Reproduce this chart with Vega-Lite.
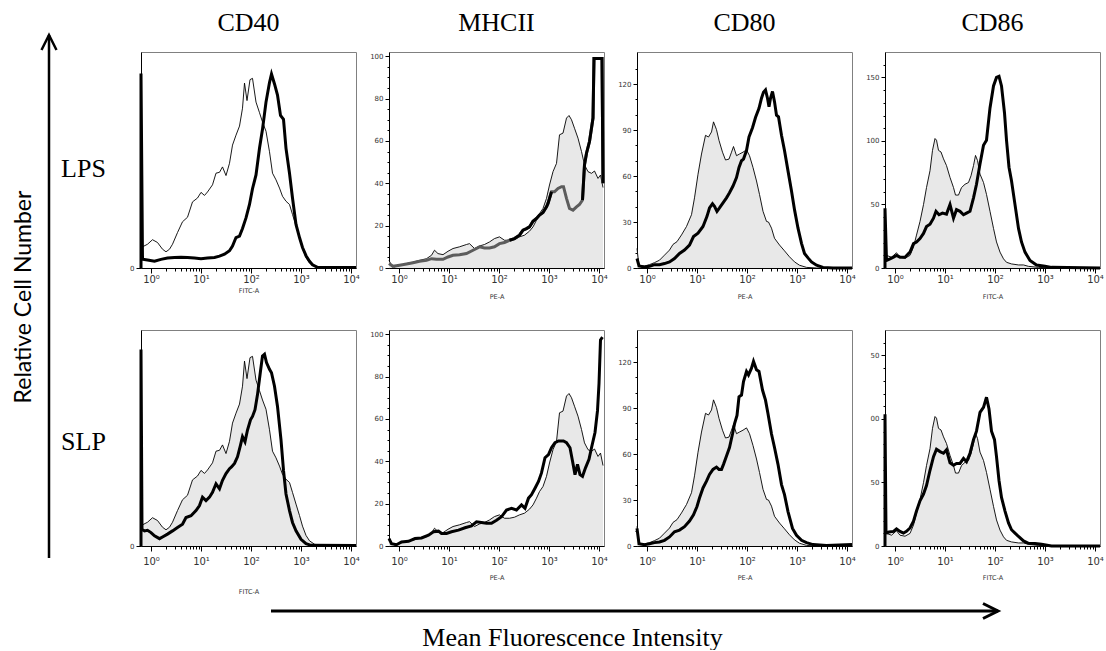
{
"$schema": "https://vega.github.io/schema/vega-lite/v6.json",
"background": "white",
"padding": {"left": 12, "top": 9, "right": 0, "bottom": 0},
"config": {
  "view": {"stroke": "#808080", "strokeWidth": 1},
  "axis": {"grid": false, "domainColor": "#000", "domainWidth": 1, "tickColor": "#000", "tickWidth": 1, "labelFont": "DejaVu Sans", "labelColor": "#333", "titleFont": "DejaVu Sans", "titleFontWeight": "normal", "titleColor": "#333", "labelOverlap": false, "labelFlush": false},
  "axisX": {"labelFontSize": 10, "titleFontSize": 6.5},
  "axisY": {"labelFontSize": 7, "labelPadding": 2}
},
"datasets": {
"ctrl_CD40": [{"log_mfi":-0.2,"cells":9},{"log_mfi":-0.17,"cells":9.8},{"log_mfi":-0.07,"cells":11},{"log_mfi":0.03,"cells":13.1},{"log_mfi":0.13,"cells":11.8},{"log_mfi":0.23,"cells":8.7},{"log_mfi":0.3,"cells":7.5},{"log_mfi":0.37,"cells":8.7},{"log_mfi":0.43,"cells":11},{"log_mfi":0.53,"cells":16.4},{"log_mfi":0.63,"cells":21.4},{"log_mfi":0.73,"cells":23.5},{"log_mfi":0.83,"cells":30.6},{"log_mfi":0.93,"cells":32.4},{"log_mfi":1.0,"cells":35},{"log_mfi":1.07,"cells":33.6},{"log_mfi":1.13,"cells":35.2},{"log_mfi":1.23,"cells":38.5},{"log_mfi":1.3,"cells":43.9},{"log_mfi":1.37,"cells":44.3},{"log_mfi":1.43,"cells":46.8},{"log_mfi":1.5,"cells":42.8},{"log_mfi":1.57,"cells":48.5},{"log_mfi":1.63,"cells":56.9},{"log_mfi":1.7,"cells":61.5},{"log_mfi":1.77,"cells":65.7},{"log_mfi":1.83,"cells":74},{"log_mfi":1.87,"cells":85.6},{"log_mfi":1.92,"cells":77.5},{"log_mfi":1.98,"cells":87.2},{"log_mfi":2.03,"cells":87.8},{"log_mfi":2.1,"cells":76.8},{"log_mfi":2.17,"cells":71.9},{"log_mfi":2.23,"cells":67.6},{"log_mfi":2.3,"cells":63.3},{"log_mfi":2.37,"cells":53.8},{"log_mfi":2.43,"cells":43.9},{"log_mfi":2.5,"cells":40.8},{"log_mfi":2.57,"cells":37},{"log_mfi":2.63,"cells":33.2},{"log_mfi":2.7,"cells":30.9},{"log_mfi":2.77,"cells":29.4},{"log_mfi":2.83,"cells":24.8},{"log_mfi":2.9,"cells":19.4},{"log_mfi":2.97,"cells":14.1},{"log_mfi":3.03,"cells":9.2},{"log_mfi":3.1,"cells":4.9},{"log_mfi":3.17,"cells":2.4},{"log_mfi":3.27,"cells":0.8},{"log_mfi":3.4,"cells":0.2},{"log_mfi":4.1,"cells":0.2}],
"LPS_CD40": [{"log_mfi":-0.2,"cells":0},{"log_mfi":-0.2,"cells":90},{"log_mfi":-0.17,"cells":4.1},{"log_mfi":-0.07,"cells":3.7},{"log_mfi":0.07,"cells":3.1},{"log_mfi":0.2,"cells":4},{"log_mfi":0.33,"cells":4.6},{"log_mfi":0.47,"cells":4.9},{"log_mfi":0.6,"cells":5},{"log_mfi":0.73,"cells":4.9},{"log_mfi":0.87,"cells":4.6},{"log_mfi":1.0,"cells":4.3},{"log_mfi":1.13,"cells":4.6},{"log_mfi":1.27,"cells":4.9},{"log_mfi":1.37,"cells":5.5},{"log_mfi":1.47,"cells":6.4},{"log_mfi":1.57,"cells":8},{"log_mfi":1.63,"cells":10.2},{"log_mfi":1.7,"cells":14.1},{"log_mfi":1.77,"cells":14.8},{"log_mfi":1.83,"cells":18.3},{"log_mfi":1.9,"cells":23.2},{"log_mfi":1.97,"cells":29.4},{"log_mfi":2.03,"cells":36.7},{"log_mfi":2.1,"cells":43.1},{"log_mfi":2.17,"cells":55.4},{"log_mfi":2.23,"cells":64.2},{"log_mfi":2.3,"cells":76.8},{"log_mfi":2.37,"cells":85.9},{"log_mfi":2.41,"cells":89.8},{"log_mfi":2.47,"cells":85.2},{"log_mfi":2.53,"cells":80.1},{"log_mfi":2.59,"cells":70.6},{"log_mfi":2.65,"cells":68.8},{"log_mfi":2.7,"cells":55.4},{"log_mfi":2.77,"cells":43.9},{"log_mfi":2.83,"cells":32.4},{"log_mfi":2.9,"cells":20.2},{"log_mfi":2.97,"cells":14.1},{"log_mfi":3.03,"cells":9.5},{"log_mfi":3.1,"cells":5.7},{"log_mfi":3.17,"cells":3.1},{"log_mfi":3.23,"cells":1.5},{"log_mfi":3.33,"cells":0.3},{"log_mfi":4.1,"cells":0.2}],
"SLP_CD40": [{"log_mfi":-0.2,"cells":0},{"log_mfi":-0.2,"cells":91},{"log_mfi":-0.18,"cells":7.8},{"log_mfi":-0.13,"cells":7},{"log_mfi":-0.07,"cells":7.3},{"log_mfi":0,"cells":6.2},{"log_mfi":0.07,"cells":4.7},{"log_mfi":0.17,"cells":3.4},{"log_mfi":0.23,"cells":4.2},{"log_mfi":0.33,"cells":5.5},{"log_mfi":0.43,"cells":7},{"log_mfi":0.53,"cells":8.6},{"log_mfi":0.63,"cells":10.1},{"log_mfi":0.7,"cells":13.2},{"log_mfi":0.8,"cells":14},{"log_mfi":0.9,"cells":16.4},{"log_mfi":0.97,"cells":18.7},{"log_mfi":1.03,"cells":22.6},{"log_mfi":1.1,"cells":21},{"log_mfi":1.17,"cells":22.6},{"log_mfi":1.23,"cells":24.9},{"log_mfi":1.3,"cells":28.8},{"log_mfi":1.37,"cells":26.5},{"log_mfi":1.43,"cells":30.4},{"log_mfi":1.5,"cells":33.5},{"log_mfi":1.57,"cells":35.8},{"log_mfi":1.61,"cells":36.6},{"log_mfi":1.67,"cells":38.2},{"log_mfi":1.73,"cells":41.3},{"log_mfi":1.79,"cells":46.7},{"log_mfi":1.83,"cells":50.6},{"log_mfi":1.88,"cells":48.3},{"log_mfi":1.93,"cells":53.7},{"log_mfi":1.99,"cells":58.4},{"log_mfi":2.03,"cells":60},{"log_mfi":2.08,"cells":63.1},{"log_mfi":2.13,"cells":70.1},{"log_mfi":2.19,"cells":81},{"log_mfi":2.23,"cells":88},{"log_mfi":2.27,"cells":88.8},{"log_mfi":2.31,"cells":84.9},{"log_mfi":2.37,"cells":81.8},{"log_mfi":2.41,"cells":80.2},{"log_mfi":2.47,"cells":74},{"log_mfi":2.53,"cells":64.6},{"log_mfi":2.6,"cells":49.1},{"log_mfi":2.65,"cells":35},{"log_mfi":2.7,"cells":24.1},{"log_mfi":2.77,"cells":16.4},{"log_mfi":2.83,"cells":10.9},{"log_mfi":2.9,"cells":7},{"log_mfi":3.0,"cells":3.1},{"log_mfi":3.1,"cells":1.1},{"log_mfi":3.2,"cells":0.3},{"log_mfi":4.1,"cells":0.2}],
"ctrl_MHCII": [{"log_mfi":-0.2,"cells":3.6},{"log_mfi":-0.15,"cells":1.3},{"log_mfi":-0.09,"cells":0.5},{"log_mfi":0.01,"cells":1.3},{"log_mfi":0.15,"cells":2.1},{"log_mfi":0.28,"cells":2.8},{"log_mfi":0.41,"cells":3.6},{"log_mfi":0.55,"cells":4.4},{"log_mfi":0.65,"cells":6},{"log_mfi":0.71,"cells":8.4},{"log_mfi":0.78,"cells":6.8},{"log_mfi":0.88,"cells":6.3},{"log_mfi":0.98,"cells":7.9},{"log_mfi":1.08,"cells":9.2},{"log_mfi":1.21,"cells":10},{"log_mfi":1.35,"cells":11.1},{"log_mfi":1.41,"cells":11.5},{"log_mfi":1.51,"cells":9.2},{"log_mfi":1.61,"cells":10.4},{"log_mfi":1.71,"cells":11.1},{"log_mfi":1.81,"cells":12.3},{"log_mfi":1.91,"cells":13.9},{"log_mfi":2.01,"cells":14.7},{"log_mfi":2.11,"cells":13.1},{"log_mfi":2.21,"cells":13.1},{"log_mfi":2.31,"cells":13.6},{"log_mfi":2.41,"cells":14.7},{"log_mfi":2.51,"cells":15.5},{"log_mfi":2.61,"cells":17.4},{"log_mfi":2.68,"cells":19.4},{"log_mfi":2.75,"cells":22.6},{"log_mfi":2.81,"cells":25.7},{"log_mfi":2.88,"cells":28.1},{"log_mfi":2.95,"cells":32.9},{"log_mfi":3.01,"cells":39.2},{"log_mfi":3.08,"cells":45.5},{"log_mfi":3.15,"cells":49.4},{"log_mfi":3.21,"cells":62.9},{"log_mfi":3.28,"cells":63.7},{"log_mfi":3.35,"cells":70.8},{"log_mfi":3.4,"cells":72},{"log_mfi":3.45,"cells":70},{"log_mfi":3.51,"cells":66},{"log_mfi":3.58,"cells":61.3},{"log_mfi":3.65,"cells":55},{"log_mfi":3.71,"cells":48.7},{"log_mfi":3.78,"cells":45.5},{"log_mfi":3.85,"cells":44.7},{"log_mfi":3.91,"cells":45.8},{"log_mfi":3.98,"cells":42.3},{"log_mfi":4.03,"cells":43.9},{"log_mfi":4.08,"cells":38}],
"LPS_MHCII": [{"log_mfi":-0.2,"cells":2.1},{"log_mfi":-0.12,"cells":0.8},{"log_mfi":0.01,"cells":1.3},{"log_mfi":0.15,"cells":1.9},{"log_mfi":0.28,"cells":2.5},{"log_mfi":0.41,"cells":3.2},{"log_mfi":0.55,"cells":3.6},{"log_mfi":0.65,"cells":4.4},{"log_mfi":0.75,"cells":4.1},{"log_mfi":0.88,"cells":4.1},{"log_mfi":0.98,"cells":5.2},{"log_mfi":1.08,"cells":6},{"log_mfi":1.21,"cells":6.3},{"log_mfi":1.35,"cells":6.8},{"log_mfi":1.48,"cells":8.4},{"log_mfi":1.61,"cells":10},{"log_mfi":1.71,"cells":9.5},{"log_mfi":1.81,"cells":9.5},{"log_mfi":1.91,"cells":10},{"log_mfi":2.01,"cells":11.5},{"log_mfi":2.11,"cells":12},{"log_mfi":2.21,"cells":13.1},{"log_mfi":2.31,"cells":13.9},{"log_mfi":2.41,"cells":15.5},{"log_mfi":2.48,"cells":17.9},{"log_mfi":2.55,"cells":18.6},{"log_mfi":2.61,"cells":19.4},{"log_mfi":2.68,"cells":22.1},{"log_mfi":2.75,"cells":23.4},{"log_mfi":2.81,"cells":25},{"log_mfi":2.88,"cells":26.2},{"log_mfi":2.95,"cells":28.9},{"log_mfi":2.98,"cells":30.5},{"log_mfi":3.05,"cells":36},{"log_mfi":3.11,"cells":36},{"log_mfi":3.18,"cells":37.6},{"log_mfi":3.25,"cells":38.4},{"log_mfi":3.29,"cells":38.4},{"log_mfi":3.35,"cells":32.9},{"log_mfi":3.41,"cells":28.1},{"log_mfi":3.48,"cells":27.3},{"log_mfi":3.55,"cells":28.9},{"log_mfi":3.61,"cells":30},{"log_mfi":3.67,"cells":32.1},{"log_mfi":3.71,"cells":48.7},{"log_mfi":3.75,"cells":54.2},{"log_mfi":3.81,"cells":59.7},{"log_mfi":3.88,"cells":70.8},{"log_mfi":3.9,"cells":98.9},{"log_mfi":4.06,"cells":98.9},{"log_mfi":4.08,"cells":40}],
"SLP_MHCII": [{"log_mfi":-0.2,"cells":3.5},{"log_mfi":-0.15,"cells":1.1},{"log_mfi":-0.05,"cells":0.6},{"log_mfi":0.05,"cells":1.9},{"log_mfi":0.19,"cells":2.2},{"log_mfi":0.32,"cells":3.5},{"log_mfi":0.45,"cells":3.8},{"log_mfi":0.59,"cells":5.1},{"log_mfi":0.69,"cells":6.7},{"log_mfi":0.79,"cells":7},{"log_mfi":0.85,"cells":5.9},{"log_mfi":0.95,"cells":5.9},{"log_mfi":1.05,"cells":6.7},{"log_mfi":1.19,"cells":7.5},{"log_mfi":1.32,"cells":8.6},{"log_mfi":1.45,"cells":9.5},{"log_mfi":1.55,"cells":11.4},{"log_mfi":1.65,"cells":11.1},{"log_mfi":1.75,"cells":10.7},{"log_mfi":1.85,"cells":10.7},{"log_mfi":1.95,"cells":12.2},{"log_mfi":2.05,"cells":13.8},{"log_mfi":2.15,"cells":17},{"log_mfi":2.25,"cells":17.8},{"log_mfi":2.35,"cells":17},{"log_mfi":2.45,"cells":19.4},{"log_mfi":2.52,"cells":17.8},{"log_mfi":2.59,"cells":22.6},{"log_mfi":2.65,"cells":24.2},{"log_mfi":2.72,"cells":27.3},{"log_mfi":2.79,"cells":30.5},{"log_mfi":2.85,"cells":34.5},{"log_mfi":2.92,"cells":41.7},{"log_mfi":2.99,"cells":43.2},{"log_mfi":3.05,"cells":46.4},{"log_mfi":3.12,"cells":48.8},{"log_mfi":3.19,"cells":49.6},{"log_mfi":3.29,"cells":49.6},{"log_mfi":3.35,"cells":48.8},{"log_mfi":3.42,"cells":46.4},{"log_mfi":3.47,"cells":40.1},{"log_mfi":3.52,"cells":33.7},{"log_mfi":3.57,"cells":38.5},{"log_mfi":3.62,"cells":33.7},{"log_mfi":3.67,"cells":32.9},{"log_mfi":3.73,"cells":36.9},{"log_mfi":3.8,"cells":40.9},{"log_mfi":3.85,"cells":46.4},{"log_mfi":3.92,"cells":53.6},{"log_mfi":3.97,"cells":63.9},{"log_mfi":4.0,"cells":76.6},{"log_mfi":4.03,"cells":97.3},{"log_mfi":4.07,"cells":98.6}],
"ctrl_CD80": [{"log_mfi":-0.2,"cells":12.8},{"log_mfi":-0.16,"cells":1.3},{"log_mfi":-0.05,"cells":1.3},{"log_mfi":0.05,"cells":2.2},{"log_mfi":0.15,"cells":3.5},{"log_mfi":0.25,"cells":5.1},{"log_mfi":0.35,"cells":8.4},{"log_mfi":0.45,"cells":11.7},{"log_mfi":0.52,"cells":15.4},{"log_mfi":0.6,"cells":17.2},{"log_mfi":0.69,"cells":21.6},{"log_mfi":0.79,"cells":27.1},{"log_mfi":0.89,"cells":34.8},{"log_mfi":0.95,"cells":45.8},{"log_mfi":1.02,"cells":61.2},{"log_mfi":1.09,"cells":74.4},{"log_mfi":1.17,"cells":86.6},{"log_mfi":1.23,"cells":85.5},{"log_mfi":1.29,"cells":88.8},{"log_mfi":1.33,"cells":95.4},{"log_mfi":1.39,"cells":90.3},{"log_mfi":1.44,"cells":83.3},{"log_mfi":1.51,"cells":75.6},{"log_mfi":1.57,"cells":70.5},{"log_mfi":1.64,"cells":71.1},{"log_mfi":1.69,"cells":75.6},{"log_mfi":1.73,"cells":79.3},{"log_mfi":1.79,"cells":73.3},{"log_mfi":1.85,"cells":74.4},{"log_mfi":1.92,"cells":75.6},{"log_mfi":1.99,"cells":77.1},{"log_mfi":2.05,"cells":73.3},{"log_mfi":2.12,"cells":65.6},{"log_mfi":2.19,"cells":56.8},{"log_mfi":2.25,"cells":48},{"log_mfi":2.32,"cells":37},{"log_mfi":2.39,"cells":30.4},{"log_mfi":2.43,"cells":30},{"log_mfi":2.49,"cells":26},{"log_mfi":2.55,"cells":19.4},{"log_mfi":2.65,"cells":15},{"log_mfi":2.75,"cells":11.2},{"log_mfi":2.85,"cells":7.3},{"log_mfi":2.95,"cells":4},{"log_mfi":3.05,"cells":1.8},{"log_mfi":3.19,"cells":0.4},{"log_mfi":3.39,"cells":0},{"log_mfi":4.1,"cells":0}],
"LPS_CD80": [{"log_mfi":-0.2,"cells":6.2},{"log_mfi":-0.16,"cells":1.3},{"log_mfi":-0.05,"cells":0.7},{"log_mfi":0.05,"cells":1.1},{"log_mfi":0.15,"cells":2.2},{"log_mfi":0.25,"cells":2.2},{"log_mfi":0.35,"cells":2.9},{"log_mfi":0.45,"cells":4},{"log_mfi":0.55,"cells":6.2},{"log_mfi":0.65,"cells":9.5},{"log_mfi":0.75,"cells":11.7},{"log_mfi":0.85,"cells":15},{"log_mfi":0.93,"cells":20.5},{"log_mfi":1.02,"cells":22.7},{"log_mfi":1.12,"cells":27.1},{"log_mfi":1.2,"cells":33.7},{"log_mfi":1.25,"cells":39.2},{"log_mfi":1.31,"cells":41.9},{"log_mfi":1.35,"cells":40.3},{"log_mfi":1.4,"cells":37},{"log_mfi":1.45,"cells":39.2},{"log_mfi":1.52,"cells":42.5},{"log_mfi":1.59,"cells":45.8},{"log_mfi":1.65,"cells":49.1},{"log_mfi":1.72,"cells":53.5},{"log_mfi":1.79,"cells":59},{"log_mfi":1.84,"cells":65.6},{"log_mfi":1.89,"cells":70},{"log_mfi":1.93,"cells":71.1},{"log_mfi":1.99,"cells":76.7},{"log_mfi":2.04,"cells":85.5},{"log_mfi":2.11,"cells":91.6},{"log_mfi":2.17,"cells":98.2},{"log_mfi":2.24,"cells":104.2},{"log_mfi":2.29,"cells":110.8},{"log_mfi":2.33,"cells":114.8},{"log_mfi":2.37,"cells":116.3},{"log_mfi":2.41,"cells":110.8},{"log_mfi":2.44,"cells":105.3},{"log_mfi":2.47,"cells":110.8},{"log_mfi":2.51,"cells":115.2},{"log_mfi":2.55,"cells":108.6},{"log_mfi":2.59,"cells":99.8},{"log_mfi":2.63,"cells":98.7},{"log_mfi":2.69,"cells":86.6},{"log_mfi":2.75,"cells":76.7},{"log_mfi":2.82,"cells":63.4},{"log_mfi":2.89,"cells":50.2},{"log_mfi":2.95,"cells":38.1},{"log_mfi":3.02,"cells":26},{"log_mfi":3.09,"cells":16.1},{"log_mfi":3.15,"cells":9.5},{"log_mfi":3.22,"cells":6.6},{"log_mfi":3.29,"cells":4},{"log_mfi":3.39,"cells":1.8},{"log_mfi":3.52,"cells":0.4},{"log_mfi":3.72,"cells":0},{"log_mfi":4.1,"cells":0}],
"SLP_CD80": [{"log_mfi":-0.2,"cells":11.5},{"log_mfi":-0.16,"cells":1.5},{"log_mfi":-0.05,"cells":0.9},{"log_mfi":0.05,"cells":1.5},{"log_mfi":0.15,"cells":2.2},{"log_mfi":0.25,"cells":2.6},{"log_mfi":0.35,"cells":3.7},{"log_mfi":0.45,"cells":5.9},{"log_mfi":0.55,"cells":9.3},{"log_mfi":0.65,"cells":10.4},{"log_mfi":0.75,"cells":12.6},{"log_mfi":0.85,"cells":16.3},{"log_mfi":0.93,"cells":20.3},{"log_mfi":1.0,"cells":25.8},{"log_mfi":1.05,"cells":31.3},{"log_mfi":1.12,"cells":37.9},{"log_mfi":1.19,"cells":42.3},{"log_mfi":1.25,"cells":46.7},{"log_mfi":1.32,"cells":50},{"log_mfi":1.39,"cells":51.5},{"log_mfi":1.44,"cells":50},{"log_mfi":1.49,"cells":50},{"log_mfi":1.53,"cells":53.3},{"log_mfi":1.59,"cells":58.8},{"log_mfi":1.65,"cells":64.3},{"log_mfi":1.71,"cells":73.1},{"log_mfi":1.75,"cells":79.7},{"log_mfi":1.8,"cells":85.2},{"log_mfi":1.84,"cells":97.4},{"log_mfi":1.89,"cells":98.5},{"log_mfi":1.93,"cells":107.3},{"log_mfi":1.99,"cells":113.9},{"log_mfi":2.03,"cells":111.7},{"log_mfi":2.09,"cells":116.1},{"log_mfi":2.13,"cells":120.5},{"log_mfi":2.19,"cells":115},{"log_mfi":2.24,"cells":113.9},{"log_mfi":2.31,"cells":101.8},{"log_mfi":2.37,"cells":95.2},{"log_mfi":2.42,"cells":86.3},{"log_mfi":2.49,"cells":73.1},{"log_mfi":2.55,"cells":64.3},{"log_mfi":2.62,"cells":53.3},{"log_mfi":2.69,"cells":40.1},{"log_mfi":2.75,"cells":33.5},{"log_mfi":2.82,"cells":22.5},{"log_mfi":2.91,"cells":11.5},{"log_mfi":2.99,"cells":7},{"log_mfi":3.09,"cells":3.7},{"log_mfi":3.19,"cells":2.2},{"log_mfi":3.32,"cells":0.9},{"log_mfi":3.59,"cells":0.4},{"log_mfi":4.1,"cells":0.9}],
"ctrl_CD86": [{"log_mfi":-0.2,"cells":10},{"log_mfi":-0.17,"cells":9.9},{"log_mfi":-0.07,"cells":8.5},{"log_mfi":0.03,"cells":12},{"log_mfi":0.1,"cells":8.5},{"log_mfi":0.2,"cells":7.7},{"log_mfi":0.3,"cells":9.9},{"log_mfi":0.37,"cells":16.5},{"log_mfi":0.43,"cells":25.9},{"log_mfi":0.5,"cells":36.6},{"log_mfi":0.57,"cells":49.9},{"log_mfi":0.63,"cells":63.3},{"log_mfi":0.7,"cells":76.6},{"log_mfi":0.75,"cells":92.6},{"log_mfi":0.8,"cells":101.9},{"log_mfi":0.83,"cells":100.6},{"log_mfi":0.87,"cells":92.6},{"log_mfi":0.92,"cells":91.3},{"log_mfi":0.97,"cells":85.9},{"log_mfi":1.03,"cells":80.6},{"log_mfi":1.1,"cells":71.3},{"log_mfi":1.17,"cells":63.3},{"log_mfi":1.21,"cells":57.4},{"log_mfi":1.27,"cells":57.4},{"log_mfi":1.33,"cells":63.3},{"log_mfi":1.4,"cells":65.9},{"log_mfi":1.47,"cells":67.3},{"log_mfi":1.52,"cells":72.6},{"log_mfi":1.57,"cells":80.6},{"log_mfi":1.61,"cells":88.6},{"log_mfi":1.65,"cells":84.6},{"log_mfi":1.7,"cells":73.9},{"log_mfi":1.77,"cells":67.3},{"log_mfi":1.83,"cells":57.9},{"log_mfi":1.9,"cells":44.6},{"log_mfi":1.97,"cells":31.2},{"log_mfi":2.03,"cells":20.5},{"log_mfi":2.1,"cells":12.5},{"log_mfi":2.17,"cells":7.2},{"log_mfi":2.23,"cells":4.5},{"log_mfi":2.33,"cells":3.2},{"log_mfi":2.47,"cells":2.4},{"log_mfi":2.57,"cells":2.4},{"log_mfi":2.67,"cells":1.3},{"log_mfi":2.87,"cells":0.5},{"log_mfi":3.13,"cells":0},{"log_mfi":4.1,"cells":0}],
"LPS_CD86": [{"log_mfi":-0.2,"cells":0},{"log_mfi":-0.2,"cells":47},{"log_mfi":-0.17,"cells":5.9},{"log_mfi":-0.1,"cells":7.2},{"log_mfi":-0.03,"cells":8.5},{"log_mfi":0.03,"cells":9.9},{"log_mfi":0.1,"cells":8.5},{"log_mfi":0.2,"cells":8.5},{"log_mfi":0.3,"cells":12.5},{"log_mfi":0.37,"cells":19.2},{"log_mfi":0.43,"cells":20.5},{"log_mfi":0.5,"cells":23.2},{"log_mfi":0.57,"cells":27.2},{"log_mfi":0.63,"cells":32.6},{"log_mfi":0.7,"cells":34.4},{"log_mfi":0.77,"cells":39.2},{"log_mfi":0.82,"cells":44.6},{"log_mfi":0.88,"cells":41.9},{"log_mfi":0.95,"cells":43.2},{"log_mfi":1.03,"cells":42.4},{"log_mfi":1.1,"cells":49.9},{"log_mfi":1.17,"cells":39.2},{"log_mfi":1.23,"cells":45.9},{"log_mfi":1.3,"cells":44.6},{"log_mfi":1.37,"cells":41.9},{"log_mfi":1.43,"cells":43.2},{"log_mfi":1.5,"cells":44.6},{"log_mfi":1.57,"cells":55.2},{"log_mfi":1.63,"cells":65.9},{"log_mfi":1.7,"cells":81.9},{"log_mfi":1.77,"cells":96.6},{"log_mfi":1.83,"cells":100.6},{"log_mfi":1.9,"cells":126},{"log_mfi":1.97,"cells":143.3},{"log_mfi":2.03,"cells":150},{"log_mfi":2.08,"cells":150.8},{"log_mfi":2.13,"cells":143.3},{"log_mfi":2.19,"cells":122},{"log_mfi":2.23,"cells":100.6},{"log_mfi":2.28,"cells":79.3},{"log_mfi":2.33,"cells":68.6},{"log_mfi":2.4,"cells":49.9},{"log_mfi":2.47,"cells":31.2},{"log_mfi":2.53,"cells":20.5},{"log_mfi":2.6,"cells":12.5},{"log_mfi":2.7,"cells":5.9},{"log_mfi":2.83,"cells":2.4},{"log_mfi":3.0,"cells":1.3},{"log_mfi":3.13,"cells":0.5},{"log_mfi":4.1,"cells":0}],
"SLP_CD86": [{"log_mfi":-0.2,"cells":0},{"log_mfi":-0.2,"cells":103.7},{"log_mfi":-0.18,"cells":10.2},{"log_mfi":-0.12,"cells":11},{"log_mfi":-0.03,"cells":11.5},{"log_mfi":0.03,"cells":13.4},{"log_mfi":0.1,"cells":11.5},{"log_mfi":0.17,"cells":10.2},{"log_mfi":0.23,"cells":11.5},{"log_mfi":0.3,"cells":14.2},{"log_mfi":0.37,"cells":19.5},{"log_mfi":0.43,"cells":27.5},{"log_mfi":0.5,"cells":35.6},{"log_mfi":0.57,"cells":40.9},{"log_mfi":0.63,"cells":47.6},{"log_mfi":0.7,"cells":59.6},{"log_mfi":0.77,"cells":70.3},{"log_mfi":0.83,"cells":76.2},{"log_mfi":0.9,"cells":74.3},{"log_mfi":0.97,"cells":73},{"log_mfi":1.03,"cells":75.7},{"log_mfi":1.1,"cells":65.5},{"log_mfi":1.17,"cells":63.6},{"log_mfi":1.23,"cells":65},{"log_mfi":1.3,"cells":65},{"log_mfi":1.37,"cells":69},{"log_mfi":1.43,"cells":66.3},{"log_mfi":1.5,"cells":73},{"log_mfi":1.57,"cells":83.7},{"log_mfi":1.63,"cells":90.4},{"log_mfi":1.7,"cells":105.1},{"log_mfi":1.77,"cells":109.1},{"log_mfi":1.83,"cells":117.1},{"log_mfi":1.88,"cells":107.8},{"log_mfi":1.93,"cells":90.4},{"log_mfi":1.99,"cells":83.7},{"log_mfi":2.03,"cells":70.3},{"log_mfi":2.08,"cells":51.6},{"log_mfi":2.13,"cells":38.2},{"log_mfi":2.2,"cells":27.5},{"log_mfi":2.27,"cells":18.2},{"log_mfi":2.33,"cells":12.8},{"log_mfi":2.4,"cells":10.2},{"log_mfi":2.47,"cells":7.5},{"log_mfi":2.57,"cells":4},{"log_mfi":2.67,"cells":2.1},{"log_mfi":2.8,"cells":1.9},{"log_mfi":2.93,"cells":1.3},{"log_mfi":3.13,"cells":0},{"log_mfi":4.1,"cells":0}]
},
"hconcat": [
{
  "width": 14, "height": 520,
  "view": {"stroke": null},
  "data": {"values": [{"start": 0, "end": 1}]},
  "layer": [
    {"mark": {"type": "rule", "color": "#000", "strokeWidth": 2.5},
     "encoding": {"y": {"field": "start", "type": "quantitative", "scale": {"domain": [0, 1], "range": [506, -17]}, "axis": {"title": "Relative Cell Number", "domain": false, "ticks": false, "labels": false, "titleFont": "Lato", "titleFontSize": 23, "titleColor": "#000", "titlePadding": 7}}, "y2": {"field": "end"}}},
    {"mark": {"type": "point", "shape": "M-1,2L0,0L1,2", "filled": false, "color": "#000", "strokeWidth": 2.5, "size": 225, "opacity": 1},
     "encoding": {"y": {"field": "end", "type": "quantitative"}}}
  ]
},
{
  "vconcat": [
    {
      "columns": 4,
      "spacing": {"row": 62, "column": 33},
      "bounds": "flush",
      "concat": [
        {
          "width": 215, "height": 216,
          "title": {"text": "CD40", "font": "Liberation Serif", "fontSize": 26, "fontWeight": "normal", "color": "#000", "anchor": "middle", "offset": 16},
          "encoding": {
            "x": {"field": "log_mfi", "type": "quantitative", "scale": {"domain": [-0.2, 4.1], "nice": false, "zero": false},
                  "axis": {"title": "FITC-A", "values": [0,0.301,0.477,0.602,0.699,0.778,0.845,0.903,0.954,1,1.301,1.477,1.602,1.699,1.778,1.845,1.903,1.954,2,2.301,2.477,2.602,2.699,2.778,2.845,2.903,2.954,3,3.301,3.477,3.602,3.699,3.778,3.845,3.903,3.954,4], "labelExpr": "datum.value === 0 ? '10\u2070' : datum.value === 1 ? '10\u00b9' : datum.value === 2 ? '10\u00b2' : datum.value === 3 ? '10\u00b3' : datum.value === 4 ? '10\u2074' : ''", "tickSize": {"condition": {"test": "datum.value % 1 === 0", "value": 5}, "value": 3}, "labelPadding": 1, "titlePadding": 3}},
            "y": {"field": "cells", "type": "quantitative", "scale": {"domain": [0, 100], "nice": false},
                  "axis": {"values": [0], "tickSize": 5, "title": "LPS", "titleAngle": 0, "titleFont": "Liberation Serif", "titleFontSize": 26, "titleFontWeight": "normal", "titleColor": "#000", "titleAlign": "center", "titleBaseline": "alphabetic", "titleX": -58, "titleY": 124}}
          },
          "layer": [
            {"data": {"name": "ctrl_CD40"}, "mark": {"type": "line", "color": "#000", "strokeWidth": 0.9}, "encoding": {}},
            {"data": {"name": "LPS_CD40"}, "mark": {"type": "line", "color": "#000", "strokeWidth": 3}, "encoding": {}}
          ]
        },
        {
          "width": 215, "height": 216,
          "title": {"text": "MHCII", "font": "Liberation Serif", "fontSize": 26, "fontWeight": "normal", "color": "#000", "anchor": "middle", "offset": 16},
          "encoding": {
            "x": {"field": "log_mfi", "type": "quantitative", "scale": {"domain": [-0.2, 4.1], "nice": false, "zero": false},
                  "axis": {"title": "PE-A", "values": [0,0.301,0.477,0.602,0.699,0.778,0.845,0.903,0.954,1,1.301,1.477,1.602,1.699,1.778,1.845,1.903,1.954,2,2.301,2.477,2.602,2.699,2.778,2.845,2.903,2.954,3,3.301,3.477,3.602,3.699,3.778,3.845,3.903,3.954,4], "labelExpr": "datum.value === 0 ? '10\u2070' : datum.value === 1 ? '10\u00b9' : datum.value === 2 ? '10\u00b2' : datum.value === 3 ? '10\u00b3' : datum.value === 4 ? '10\u2074' : ''", "tickSize": {"condition": {"test": "datum.value % 1 === 0", "value": 5}, "value": 3}, "labelPadding": 1, "titlePadding": 9}},
            "y": {"field": "cells", "type": "quantitative", "scale": {"domain": [0, 102], "nice": false},
                  "axis": {"title": null, "values": [0,5,10,15,20,25,30,35,40,45,50,55,60,65,70,75,80,85,90,95,100], "labelExpr": "datum.value % 20 === 0 ? datum.label : ''", "tickSize": {"condition": {"test": "datum.value % 20 === 0", "value": 4}, "value": 2}}}
          },
          "layer": [
            {"data": {"name": "ctrl_MHCII"}, "mark": {"type": "area", "color": "#e8e8e8"}, "encoding": {}},
            {"data": {"name": "ctrl_MHCII"}, "mark": {"type": "line", "color": "#000", "strokeWidth": 0.9}, "encoding": {}},
            {"data": {"name": "LPS_MHCII"}, "mark": {"type": "line", "color": "#5c5c5c", "strokeWidth": 3}, "encoding": {}},
            {"data": {"name": "LPS_MHCII"}, "transform": [{"filter": "datum.log_mfi >= 2.21 && datum.log_mfi <= 3.05"}], "mark": {"type": "line", "color": "#000", "strokeWidth": 3}, "encoding": {}},
            {"data": {"name": "LPS_MHCII"}, "transform": [{"filter": "datum.log_mfi >= 3.67"}], "mark": {"type": "line", "color": "#000", "strokeWidth": 3}, "encoding": {}}
          ]
        },
        {
          "width": 215, "height": 216,
          "title": {"text": "CD80", "font": "Liberation Serif", "fontSize": 26, "fontWeight": "normal", "color": "#000", "anchor": "middle", "offset": 16},
          "encoding": {
            "x": {"field": "log_mfi", "type": "quantitative", "scale": {"domain": [-0.2, 4.1], "nice": false, "zero": false},
                  "axis": {"title": "PE-A", "values": [0,0.301,0.477,0.602,0.699,0.778,0.845,0.903,0.954,1,1.301,1.477,1.602,1.699,1.778,1.845,1.903,1.954,2,2.301,2.477,2.602,2.699,2.778,2.845,2.903,2.954,3,3.301,3.477,3.602,3.699,3.778,3.845,3.903,3.954,4], "labelExpr": "datum.value === 0 ? '10\u2070' : datum.value === 1 ? '10\u00b9' : datum.value === 2 ? '10\u00b2' : datum.value === 3 ? '10\u00b3' : datum.value === 4 ? '10\u2074' : ''", "tickSize": {"condition": {"test": "datum.value % 1 === 0", "value": 5}, "value": 3}, "labelPadding": 1, "titlePadding": 9}},
            "y": {"field": "cells", "type": "quantitative", "scale": {"domain": [0, 141], "nice": false},
                  "axis": {"title": null, "values": [0,10,20,30,40,50,60,70,80,90,100,110,120,130], "labelExpr": "datum.value % 30 === 0 ? datum.label : ''", "tickSize": {"condition": {"test": "datum.value % 30 === 0", "value": 4}, "value": 2}}}
          },
          "layer": [
            {"data": {"name": "ctrl_CD80"}, "mark": {"type": "area", "color": "#e8e8e8"}, "encoding": {}},
            {"data": {"name": "ctrl_CD80"}, "mark": {"type": "line", "color": "#000", "strokeWidth": 0.9}, "encoding": {}},
            {"data": {"name": "LPS_CD80"}, "mark": {"type": "line", "color": "#000", "strokeWidth": 3}, "encoding": {}}
          ]
        },
        {
          "width": 215, "height": 216,
          "title": {"text": "CD86", "font": "Liberation Serif", "fontSize": 26, "fontWeight": "normal", "color": "#000", "anchor": "middle", "offset": 16},
          "encoding": {
            "x": {"field": "log_mfi", "type": "quantitative", "scale": {"domain": [-0.2, 4.1], "nice": false, "zero": false},
                  "axis": {"title": "FITC-A", "values": [0,0.301,0.477,0.602,0.699,0.778,0.845,0.903,0.954,1,1.301,1.477,1.602,1.699,1.778,1.845,1.903,1.954,2,2.301,2.477,2.602,2.699,2.778,2.845,2.903,2.954,3,3.301,3.477,3.602,3.699,3.778,3.845,3.903,3.954,4], "labelExpr": "datum.value === 0 ? '10\u2070' : datum.value === 1 ? '10\u00b9' : datum.value === 2 ? '10\u00b2' : datum.value === 3 ? '10\u00b3' : datum.value === 4 ? '10\u2074' : ''", "tickSize": {"condition": {"test": "datum.value % 1 === 0", "value": 5}, "value": 3}, "labelPadding": 1, "titlePadding": 9}},
            "y": {"field": "cells", "type": "quantitative", "scale": {"domain": [0, 170], "nice": false},
                  "axis": {"title": null, "values": [0,10,20,30,40,50,60,70,80,90,100,110,120,130,140,150,160], "labelExpr": "datum.value % 50 === 0 ? datum.label : ''", "tickSize": {"condition": {"test": "datum.value % 50 === 0", "value": 4}, "value": 2}}}
          },
          "layer": [
            {"data": {"name": "ctrl_CD86"}, "mark": {"type": "area", "color": "#e8e8e8"}, "encoding": {}},
            {"data": {"name": "ctrl_CD86"}, "mark": {"type": "line", "color": "#000", "strokeWidth": 0.9}, "encoding": {}},
            {"data": {"name": "LPS_CD86"}, "mark": {"type": "line", "color": "#000", "strokeWidth": 3}, "encoding": {}}
          ]
        },
        {
          "width": 215, "height": 216,
          "encoding": {
            "x": {"field": "log_mfi", "type": "quantitative", "scale": {"domain": [-0.2, 4.1], "nice": false, "zero": false},
                  "axis": {"title": "FITC-A", "values": [0,0.301,0.477,0.602,0.699,0.778,0.845,0.903,0.954,1,1.301,1.477,1.602,1.699,1.778,1.845,1.903,1.954,2,2.301,2.477,2.602,2.699,2.778,2.845,2.903,2.954,3,3.301,3.477,3.602,3.699,3.778,3.845,3.903,3.954,4], "labelExpr": "datum.value === 0 ? '10\u2070' : datum.value === 1 ? '10\u00b9' : datum.value === 2 ? '10\u00b2' : datum.value === 3 ? '10\u00b3' : datum.value === 4 ? '10\u2074' : ''", "tickSize": {"condition": {"test": "datum.value % 1 === 0", "value": 5}, "value": 3}, "labelPadding": 5, "titlePadding": 22}},
            "y": {"field": "cells", "type": "quantitative", "scale": {"domain": [0, 100], "nice": false},
                  "axis": {"values": [0], "tickSize": 5, "title": "SLP", "titleAngle": 0, "titleFont": "Liberation Serif", "titleFontSize": 26, "titleFontWeight": "normal", "titleColor": "#000", "titleAlign": "center", "titleBaseline": "alphabetic", "titleX": -58, "titleY": 119}}
          },
          "layer": [
            {"data": {"name": "ctrl_CD40"}, "mark": {"type": "area", "color": "#e8e8e8"}, "encoding": {}},
            {"data": {"name": "ctrl_CD40"}, "mark": {"type": "line", "color": "#000", "strokeWidth": 0.9}, "encoding": {}},
            {"data": {"name": "SLP_CD40"}, "mark": {"type": "line", "color": "#000", "strokeWidth": 3}, "encoding": {}}
          ]
        },
        {
          "width": 215, "height": 216,
          "encoding": {
            "x": {"field": "log_mfi", "type": "quantitative", "scale": {"domain": [-0.2, 4.1], "nice": false, "zero": false},
                  "axis": {"title": "PE-A", "values": [0,0.301,0.477,0.602,0.699,0.778,0.845,0.903,0.954,1,1.301,1.477,1.602,1.699,1.778,1.845,1.903,1.954,2,2.301,2.477,2.602,2.699,2.778,2.845,2.903,2.954,3,3.301,3.477,3.602,3.699,3.778,3.845,3.903,3.954,4], "labelExpr": "datum.value === 0 ? '10\u2070' : datum.value === 1 ? '10\u00b9' : datum.value === 2 ? '10\u00b2' : datum.value === 3 ? '10\u00b3' : datum.value === 4 ? '10\u2074' : ''", "tickSize": {"condition": {"test": "datum.value % 1 === 0", "value": 5}, "value": 3}, "labelPadding": 5, "titlePadding": 8}},
            "y": {"field": "cells", "type": "quantitative", "scale": {"domain": [0, 102], "nice": false},
                  "axis": {"title": null, "values": [0,5,10,15,20,25,30,35,40,45,50,55,60,65,70,75,80,85,90,95,100], "labelExpr": "datum.value % 20 === 0 ? datum.label : ''", "tickSize": {"condition": {"test": "datum.value % 20 === 0", "value": 4}, "value": 2}}}
          },
          "layer": [
            {"data": {"name": "ctrl_MHCII"}, "mark": {"type": "area", "color": "#e8e8e8"}, "encoding": {}},
            {"data": {"name": "ctrl_MHCII"}, "mark": {"type": "line", "color": "#000", "strokeWidth": 0.9}, "encoding": {}},
            {"data": {"name": "SLP_MHCII"}, "mark": {"type": "line", "color": "#000", "strokeWidth": 3}, "encoding": {}}
          ]
        },
        {
          "width": 215, "height": 216,
          "encoding": {
            "x": {"field": "log_mfi", "type": "quantitative", "scale": {"domain": [-0.2, 4.1], "nice": false, "zero": false},
                  "axis": {"title": "PE-A", "values": [0,0.301,0.477,0.602,0.699,0.778,0.845,0.903,0.954,1,1.301,1.477,1.602,1.699,1.778,1.845,1.903,1.954,2,2.301,2.477,2.602,2.699,2.778,2.845,2.903,2.954,3,3.301,3.477,3.602,3.699,3.778,3.845,3.903,3.954,4], "labelExpr": "datum.value === 0 ? '10\u2070' : datum.value === 1 ? '10\u00b9' : datum.value === 2 ? '10\u00b2' : datum.value === 3 ? '10\u00b3' : datum.value === 4 ? '10\u2074' : ''", "tickSize": {"condition": {"test": "datum.value % 1 === 0", "value": 5}, "value": 3}, "labelPadding": 5, "titlePadding": 8}},
            "y": {"field": "cells", "type": "quantitative", "scale": {"domain": [0, 141], "nice": false},
                  "axis": {"title": null, "values": [0,10,20,30,40,50,60,70,80,90,100,110,120,130], "labelExpr": "datum.value % 30 === 0 ? datum.label : ''", "tickSize": {"condition": {"test": "datum.value % 30 === 0", "value": 4}, "value": 2}}}
          },
          "layer": [
            {"data": {"name": "ctrl_CD80"}, "mark": {"type": "area", "color": "#e8e8e8"}, "encoding": {}},
            {"data": {"name": "ctrl_CD80"}, "mark": {"type": "line", "color": "#000", "strokeWidth": 0.9}, "encoding": {}},
            {"data": {"name": "SLP_CD80"}, "mark": {"type": "line", "color": "#000", "strokeWidth": 3}, "encoding": {}}
          ]
        },
        {
          "width": 215, "height": 216,
          "encoding": {
            "x": {"field": "log_mfi", "type": "quantitative", "scale": {"domain": [-0.2, 4.1], "nice": false, "zero": false},
                  "axis": {"title": "FITC-A", "values": [0,0.301,0.477,0.602,0.699,0.778,0.845,0.903,0.954,1,1.301,1.477,1.602,1.699,1.778,1.845,1.903,1.954,2,2.301,2.477,2.602,2.699,2.778,2.845,2.903,2.954,3,3.301,3.477,3.602,3.699,3.778,3.845,3.903,3.954,4], "labelExpr": "datum.value === 0 ? '10\u2070' : datum.value === 1 ? '10\u00b9' : datum.value === 2 ? '10\u00b2' : datum.value === 3 ? '10\u00b3' : datum.value === 4 ? '10\u2074' : ''", "tickSize": {"condition": {"test": "datum.value % 1 === 0", "value": 5}, "value": 3}, "labelPadding": 5, "titlePadding": 8}},
            "y": {"field": "cells", "type": "quantitative", "scale": {"domain": [0, 170], "nice": false},
                  "axis": {"title": null, "values": [0,10,20,30,40,50,60,70,80,90,100,110,120,130,140,150,160], "labelExpr": "datum.value === 150 ? '50' : datum.value === 100 ? '00' : datum.value === 50 ? '50' : datum.value === 0 ? '0' : ''", "tickSize": {"condition": {"test": "datum.value % 50 === 0", "value": 4}, "value": 2}}}
          },
          "layer": [
            {"data": {"name": "ctrl_CD86"}, "mark": {"type": "area", "color": "#e8e8e8"}, "encoding": {}},
            {"data": {"name": "ctrl_CD86"}, "mark": {"type": "line", "color": "#000", "strokeWidth": 0.9}, "encoding": {}},
            {"data": {"name": "SLP_CD86"}, "mark": {"type": "line", "color": "#000", "strokeWidth": 3}, "encoding": {}}
          ]
        }
      ]
    },
    {
      "width": 860, "height": 14,
      "view": {"stroke": null},
      "data": {"values": [{"low": 0, "high": 1}]},
      "layer": [
        {"mark": {"type": "rule", "color": "#000", "strokeWidth": 3},
         "encoding": {"x": {"field": "low", "type": "quantitative", "scale": {"domain": [0, 1], "range": [130, 857]}, "axis": {"title": "Mean Fluorescence Intensity", "domain": false, "ticks": false, "labels": false, "titleFont": "Liberation Serif", "titleFontSize": 26, "titleFontWeight": "normal", "titleColor": "#000", "titlePadding": 6, "titleX": 431, "titleAlign": "center"}}, "x2": {"field": "high"}}},
        {"mark": {"type": "point", "shape": "M-2,-1L0,0L-2,1", "filled": false, "color": "#000", "strokeWidth": 3, "size": 225, "opacity": 1},
         "encoding": {"x": {"field": "high", "type": "quantitative"}}}
      ]
    }
  ],
  "spacing": 2
}
],
"spacing": -2
}
